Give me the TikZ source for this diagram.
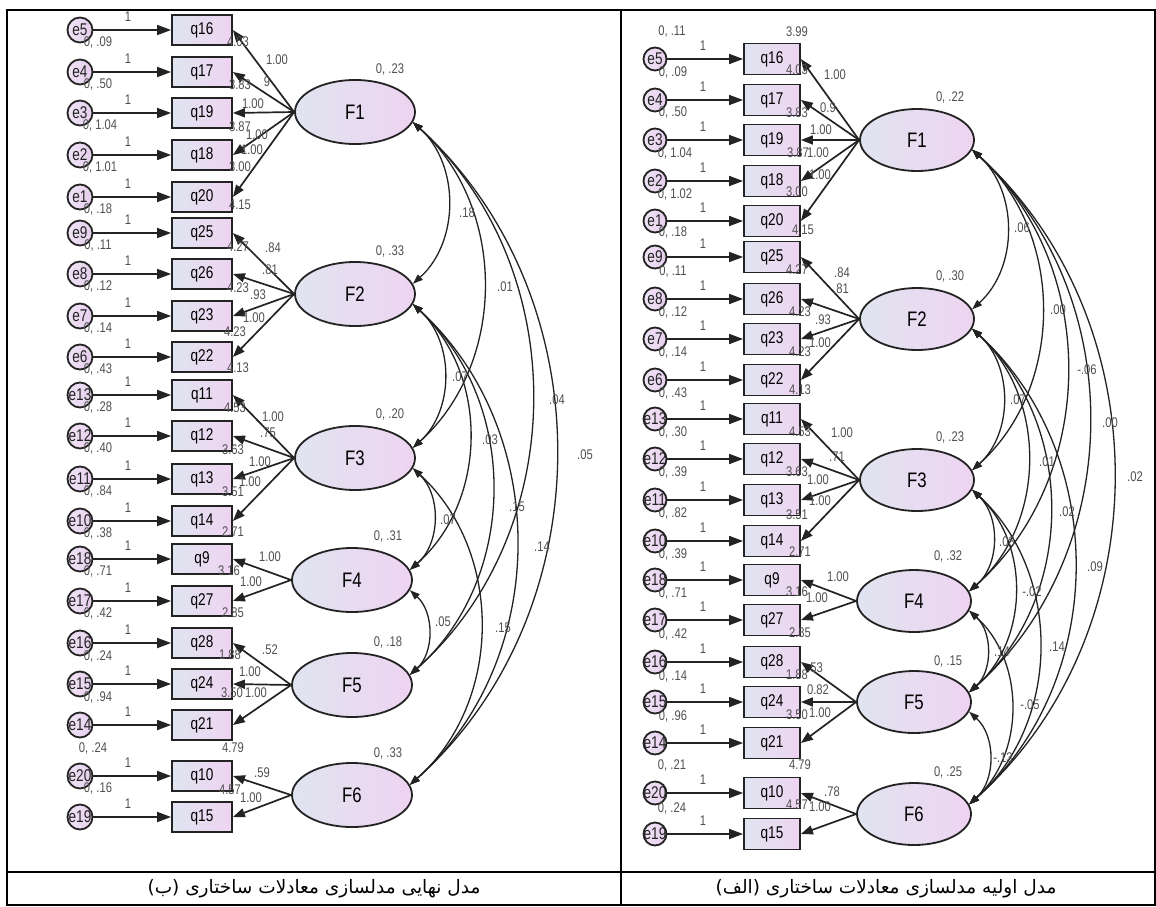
\documentclass[tikz,border=0pt]{standalone}
\usepackage{fontspec}
\setmainfont{Liberation Sans}
\newfontfamily\nar[FakeStretch=0.8]{Liberation Sans}
\newfontfamily\arabicfont[Script=Arabic]{DejaVu Sans}
\TeXXeTstate=1
\usetikzlibrary{shapes.geometric,arrows.meta}
\definecolor{cL}{RGB}{224,228,240}
\definecolor{cR}{RGB}{238,212,241}
\definecolor{eL}{RGB}{240,228,245}
\definecolor{eR}{RGB}{230,206,237}
\definecolor{ink}{RGB}{35,35,35}
\definecolor{lblc}{RGB}{80,80,80}
\begin{document}
\begin{tikzpicture}[x=1pt,y=1pt,
  evar/.style={circle, draw=ink, line width=1.8pt, inner sep=0pt, left color=eL, right color=eR,
     label={[font=\nar\fontsize{17}{17}\selectfont, text=ink]center:#1}},
  obs/.style={rectangle, draw=ink, line width=1.8pt, inner sep=0pt, left color=cL, right color=cR,
     font=\nar\fontsize{17}{17}\selectfont},
  lat/.style={ellipse, draw=ink, line width=1.8pt, inner sep=0pt, left color=cL, right color=cR,
     font=\nar\fontsize{21}{21}\selectfont},
  lbl/.style={inner sep=0pt, text=lblc, font=\nar\fontsize{14}{14}\selectfont},
  reg/.style={draw=ink, line width=1.7pt, -{Triangle[length=14pt,width=10pt]}},
  load/.style={draw=ink, line width=1.7pt, -{Triangle[length=12pt,width=9pt]}},
  cov/.style={draw=ink, line width=1.3pt, {Triangle[length=10pt,width=7pt]}-{Triangle[length=10pt,width=7pt]}},
  frame/.style={draw=black, line width=1.8pt},
  captext/.style={inner sep=0pt, font=\arabicfont\fontsize{18.5}{18.5}\selectfont}]
\useasboundingbox (0,0) rectangle (1156,-907);
\fill[white] (0,0) rectangle (1156,-907);

% ---------------- LEFT PANEL ----------------
\foreach \en/\qn/\yy in {5/16/30,4/17/72,3/19/113,2/18/155,1/20/197,9/25/233,8/26/274,7/23/316,6/22/357,13/11/395,12/12/436,11/13/479,10/14/521,18/9/559,17/27/601,16/28/643,15/24/684,14/21/725,20/10/776,19/15/817}{
  \node[evar=e\en, minimum size=25pt] (Le\en) at (80,-\yy) {};
  \node[obs, minimum width=60pt, minimum height=30pt] (Lq\qn) at (202,-\yy) {q\qn};
  \draw[reg] (Le\en) -- (Lq\qn);
  \node[lbl] (Lone\en) at (128,{13-\yy}) {1};
}
\node[lat, minimum width=120pt, minimum height=64pt] (LF1) at (355,-112) {F1};
\node[lat, minimum width=120pt, minimum height=64pt] (LF2) at (355,-294) {F2};
\node[lat, minimum width=120pt, minimum height=64pt] (LF3) at (355,-458) {F3};
\node[lat, minimum width=120pt, minimum height=64pt] (LF4) at (352,-580) {F4};
\node[lat, minimum width=120pt, minimum height=64pt] (LF5) at (352,-685) {F5};
\node[lat, minimum width=120pt, minimum height=64pt] (LF6) at (352,-795) {F6};
\foreach \f/\qn in {1/16,1/17,1/19,1/18,1/20,2/25,2/26,2/23,2/22,3/11,3/12,3/13,3/14,4/9,4/27,5/28,5/24,5/21,6/10,6/15}
  \draw[load] (LF\f.west) -- (Lq\qn.east);
\foreach \a/\b in {1/2,1/3,1/5,1/6,2/3,2/4,2/5,2/6,3/4,3/6,4/5}
  \draw[cov] (LF\a.-10) to[bend left=48] (LF\b.10);
\foreach \f/\xx/\yy/\txt in {1/390/70/.23,2/390/252/.33,3/390/415/.20,4/388/537/.31,5/388/642/.18,6/388/753/.33}
  \node[lbl] (LFv\f) at (\xx,-\yy) {0, \txt};
\foreach \xx/\yy/\txt [count=\i] in {277/60/1.00,267/82/9,253/104/1.00,257/135/1.00,252/150/1.00,273/248/.84,270/270/.81,258/295/.93,254/318/1.00,273/417/1.00,268/433/.75,260/462/1.00,250/482/1.00,270/557/1.00,251/582/1.00,270/650/.52,250/672/1.00,256/693/1.00,262/773/.59,251/798/1.00}
  \node[lbl] (Lld\i) at (\xx,-\yy) {\txt};
\foreach \xx/\yy/\txt [count=\i] in {238/42/4.03,240/85/3.83,240/127/3.87,240/167/3.00,240/205/4.15,238/247/4.27,238/288/4.23,235/332/4.23,238/368/4.13,235/408/4.53,233/450/3.63,233/492/3.51,233/532/2.71,229/571/3.16,233/613/2.85,230/655/1.88,232/693/3.50,233/748/4.79,230/790/4.57}
  \node[lbl] (Lint\i) at (\xx,-\yy) {\txt};
\foreach \xx/\yy/\txt [count=\i] in {98/43/.09,98/85/.50,100/126/1.04,100/168/1.01,98/210/.18,98/246/.11,98/287/.12,98/329/.14,98/370/.43,98/408/.28,98/449/.40,98/492/.84,98/534/.38,98/572/.71,98/614/.42,98/656/.24,98/697/.94,93/748/.24,98/788/.16}
  \node[lbl] (Lev\i) at (\xx,-\yy) {0, \txt};
\foreach \xx/\yy/\txt [count=\i] in {467/213/.18,505/287/.01,557/400/.04,585/455/.05,460/377/.07,490/440/.03,517/507/.15,542/547/.14,448/520/.07,503/628/.15,443/622/.05}
  \node[lbl] (Lcv\i) at (\xx,-\yy) {\txt};

% ---------------- RIGHT PANEL ----------------
\foreach \en/\qn/\yy in {5/16/59,4/17/100,3/19/140,2/18/181,1/20/221,9/25/257,8/26/299,7/23/339,6/22/380,13/11/419,12/12/459,11/13/500,10/14/541,18/9/580,17/27/620,16/28/662,15/24/702,14/21/743,20/10/793,19/15/834}{
  \node[evar=e\en, minimum size=23pt] (Re\en) at (655,-\yy) {};
  \node[obs, minimum width=56pt, minimum height=31pt] (Rq\qn) at (772,-\yy) {q\qn};
  \draw[reg] (Re\en) -- (Rq\qn);
  \node[lbl] (Rone\en) at (703,{13-\yy}) {1};
}
\node[lat, minimum width=114pt, minimum height=62pt] (RF1) at (917,-140) {F1};
\node[lat, minimum width=114pt, minimum height=62pt] (RF2) at (917,-319) {F2};
\node[lat, minimum width=114pt, minimum height=62pt] (RF3) at (917,-480) {F3};
\node[lat, minimum width=114pt, minimum height=62pt] (RF4) at (914,-601) {F4};
\node[lat, minimum width=114pt, minimum height=62pt] (RF5) at (914,-702) {F5};
\node[lat, minimum width=114pt, minimum height=62pt] (RF6) at (914,-814) {F6};
\foreach \f/\qn in {1/16,1/17,1/19,1/18,1/20,2/25,2/26,2/23,2/22,3/11,3/12,3/13,3/14,4/9,4/27,5/28,5/24,5/21,6/10,6/15}
  \draw[load] (RF\f.west) -- (Rq\qn.east);
\foreach \a/\b in {1/2,1/3,1/4,1/5,1/6,2/3,2/4,2/5,2/6,3/4,3/5,3/6,4/5,4/6,5/6}
  \draw[cov] (RF\a.-10) to[bend left=48] (RF\b.10);
\foreach \f/\xx/\yy/\txt in {1/950/98/.22,2/950/277/.30,3/950/438/.23,4/948/557/.32,5/948/661/.15,6/948/772/.25}
  \node[lbl] (RFv\f) at (\xx,-\yy) {0, \txt};
\foreach \xx/\yy/\txt [count=\i] in {835/75/1.00,828/108/0.9,821/130/1.00,818/153/1.00,820/175/1.00,842/273/.84,841/289/.81,823/320/.93,820/343/1.00,842/433/1.00,837/457/.71,818/480/1.00,820/501/1.00,838/577/1.00,817/598/1.00,815/668/.53,818/690/0.82,820/713/1.00,832/792/.78,820/807/1.00}
  \node[lbl] (Rld\i) at (\xx,-\yy) {\txt};
\foreach \xx/\yy/\txt [count=\i] in {797/32/3.99,797/70/4.03,797/113/3.83,798/153/3.87,797/192/3.00,803/230/4.15,797/270/4.27,800/312/4.23,800/352/4.23,800/390/4.13,800/432/4.53,797/472/3.63,797/515/3.51,800/552/2.71,797/592/3.16,800/633/2.85,797/675/1.88,797/715/3.50,800/765/4.79,797/805/4.57}
  \node[lbl] (Rint\i) at (\xx,-\yy) {\txt};
\foreach \xx/\yy/\txt [count=\i] in {672/32/.11,673/73/.09,673/113/.50,675/154/1.04,675/195/1.02,673/233/.18,673/272/.11,673/313/.12,673/353/.14,673/394/.43,673/433/.30,673/473/.39,673/514/.82,673/555/.39,673/594/.71,673/634/.42,673/676/.14,673/716/.96,672/765/.21,672/808/.24}
  \node[lbl] (Rev\i) at (\xx,-\yy) {0, \txt};
\foreach \xx/\yy/\txt [count=\i] in {1022/228/.06,1058/310/.00,1087/370/-.06,1110/423/.00,1135/477/.02,1018/400/.07,1047/462/.01,1067/512/.02,1095/567/.09,1007/542/.08,1032/592/-.02,1057/647/.14,1002/652/.14,1030/705/-.05,1003/758/-.13}
  \node[lbl] (Rcv\i) at (\xx,-\yy) {\txt};

% ---------------- TABLE FRAME & CAPTIONS ----------------
\draw[frame] (7,-10) rectangle (1155,-905);
\draw[frame] (621,-10) -- (621,-905);
\draw[frame] (7,-872) -- (1155,-872);
\node[captext] (capL) at (314,-889) {\beginR مدل نهایی مدلسازی معادلات ساختاری (ب)\endR};
\node[captext] (capR) at (886,-889) {\beginR مدل اولیه مدلسازی معادلات ساختاری (الف)\endR};
\end{tikzpicture}
\end{document}
